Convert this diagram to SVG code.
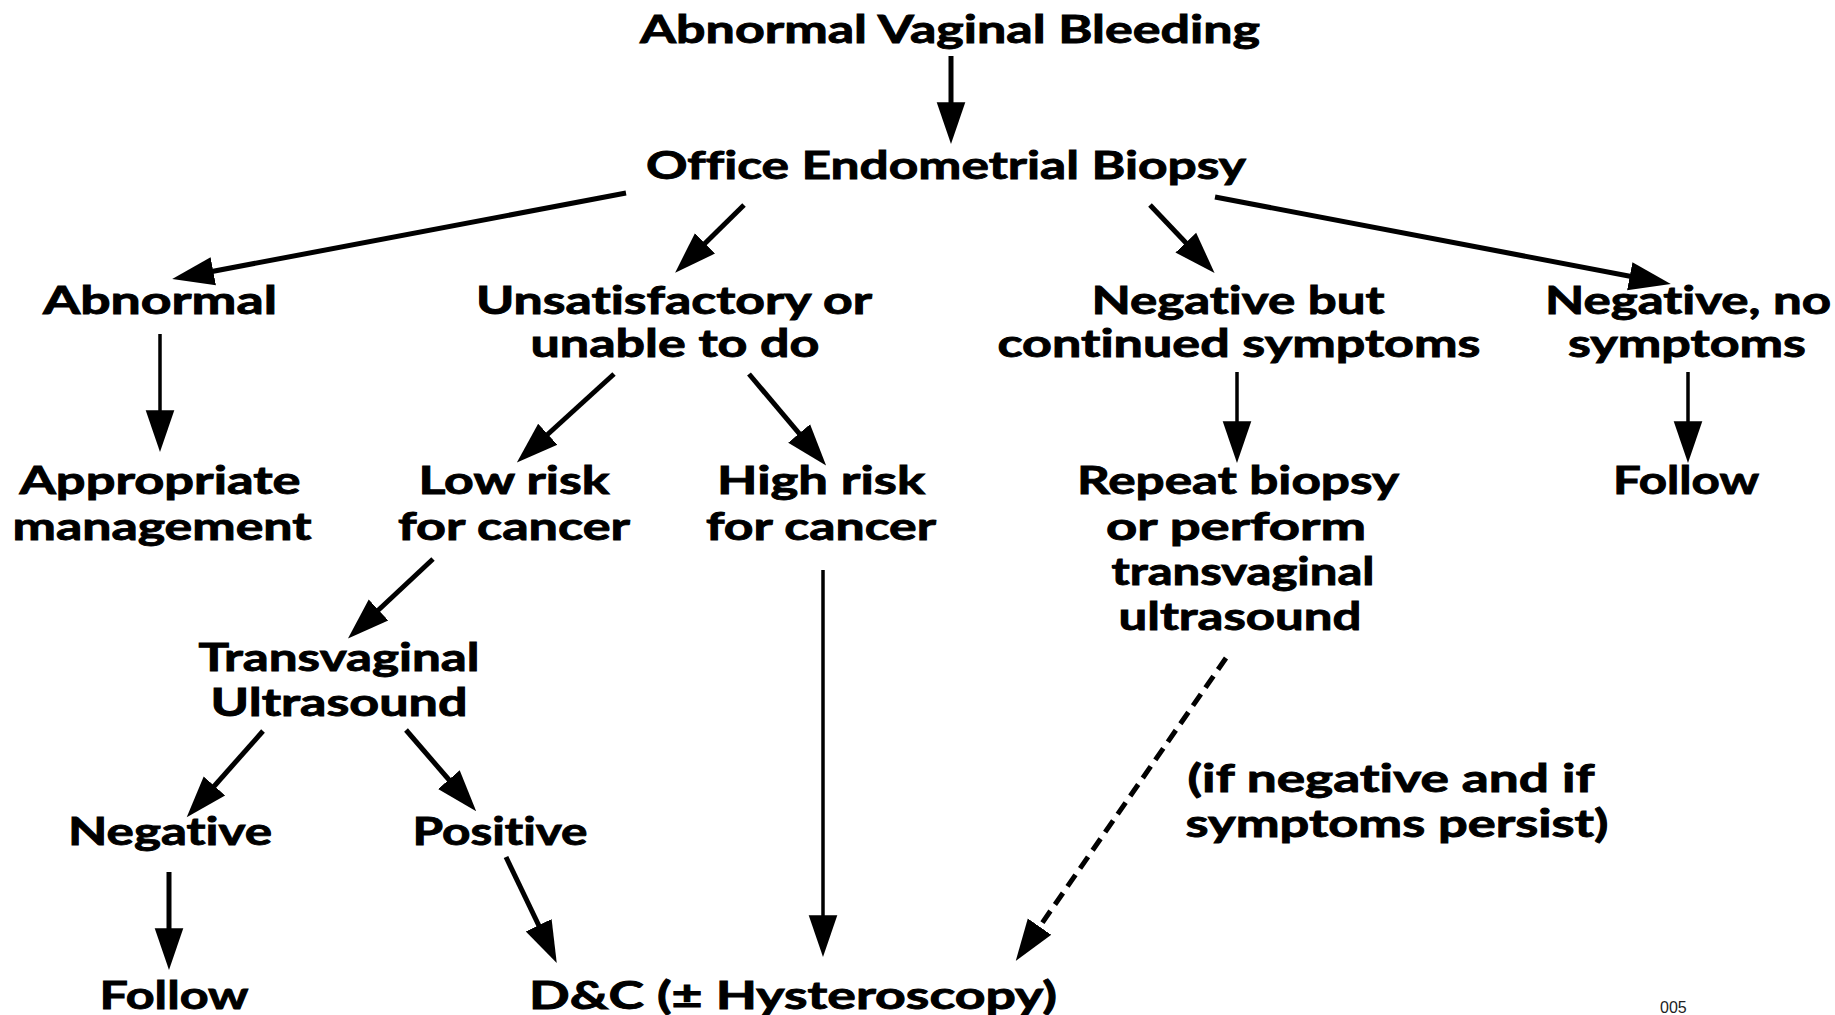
<svg xmlns="http://www.w3.org/2000/svg" width="1835" height="1015" viewBox="0 0 1835 1015">
<style>
  .t { font-family: Lato, "Liberation Sans", sans-serif; font-weight: bold; font-size: 39px; fill: #000; stroke: #000; stroke-width: 0.9; text-anchor: middle; font-variant-ligatures: none; }
  .c { stroke: #000; stroke-width: 5; fill: none; marker-end: url(#ah); }
  .d { stroke-dasharray: 14 8; }
  .thin { stroke-width: 3.5; }
  .pg { font-family: "Liberation Sans", sans-serif; font-size: 16px; fill: #222; }
</style>
<defs>
  <marker id="ah" markerUnits="userSpaceOnUse" markerWidth="44" markerHeight="34" viewBox="0 -15 40 30" refX="28" refY="0" orient="auto">
    <path d="M0,-13 L38,0 L0,13 z" fill="#000"/>
  </marker>
</defs>
<rect width="1835" height="1015" fill="#fff"/>

<g id="connectors">
  <line class="c" x1="951" y1="56" x2="951" y2="133"/>
  <line class="c" x1="626" y1="193" x2="183" y2="277"/>
  <line class="c" x1="744" y1="205" x2="683" y2="265"/>
  <line class="c" x1="1150" y1="205" x2="1207" y2="265"/>
  <line class="c" x1="1215" y1="197" x2="1660" y2="282"/>
  <line class="c thin" x1="160" y1="334" x2="160" y2="441"/>
  <line class="c" x1="614" y1="374" x2="525" y2="455"/>
  <line class="c" x1="749" y1="374" x2="819" y2="457"/>
  <line class="c thin" x1="1237" y1="372" x2="1237" y2="452"/>
  <line class="c thin" x1="1688" y1="372" x2="1688" y2="452"/>
  <line class="c" x1="433" y1="559" x2="356" y2="631"/>
  <line class="c thin" x1="823" y1="570" x2="823" y2="946"/>
  <line class="c d" x1="1226" y1="658" x2="1022" y2="952"/>
  <line class="c" x1="263" y1="731" x2="194" y2="809"/>
  <line class="c" x1="406" y1="730" x2="469" y2="803"/>
  <line class="c" x1="169" y1="872" x2="169" y2="959"/>
  <line class="c" x1="506" y1="857" x2="552" y2="953"/>
</g>

<g id="n-bleeding"><text class="t" x="950" y="43" textLength="620" lengthAdjust="spacingAndGlyphs">Abnormal Vaginal Bleeding</text></g>
<g id="n-biopsy"><text class="t" x="946" y="179" textLength="600" lengthAdjust="spacingAndGlyphs">Office Endometrial Biopsy</text></g>
<g id="n-abnormal"><text class="t" x="160" y="314" textLength="234" lengthAdjust="spacingAndGlyphs">Abnormal</text></g>
<g id="n-unsatisfactory">
  <text class="t" x="674" y="314" textLength="396" lengthAdjust="spacingAndGlyphs">Unsatisfactory or</text>
  <text class="t" x="675" y="357" textLength="289" lengthAdjust="spacingAndGlyphs">unable to do</text>
</g>
<g id="n-negbut">
  <text class="t" x="1238" y="314" textLength="293" lengthAdjust="spacingAndGlyphs">Negative but</text>
  <text class="t" x="1239" y="357" textLength="483" lengthAdjust="spacingAndGlyphs">continued symptoms</text>
</g>
<g id="n-negno">
  <text class="t" x="1688" y="314" textLength="286" lengthAdjust="spacingAndGlyphs">Negative, no</text>
  <text class="t" x="1687" y="357" textLength="238" lengthAdjust="spacingAndGlyphs">symptoms</text>
</g>
<g id="n-appropriate">
  <text class="t" x="160" y="494" textLength="281" lengthAdjust="spacingAndGlyphs">Appropriate</text>
  <text class="t" x="162" y="540" textLength="299" lengthAdjust="spacingAndGlyphs">management</text>
</g>
<g id="n-lowrisk">
  <text class="t" x="514" y="494" textLength="191" lengthAdjust="spacingAndGlyphs">Low risk</text>
  <text class="t" x="514" y="540" textLength="232" lengthAdjust="spacingAndGlyphs">for cancer</text>
</g>
<g id="n-highrisk">
  <text class="t" x="821" y="494" textLength="208" lengthAdjust="spacingAndGlyphs">High risk</text>
  <text class="t" x="821" y="540" textLength="230" lengthAdjust="spacingAndGlyphs">for cancer</text>
</g>
<g id="n-repeat">
  <text class="t" x="1238" y="494" textLength="322" lengthAdjust="spacingAndGlyphs">Repeat biopsy</text>
  <text class="t" x="1236" y="540" textLength="260" lengthAdjust="spacingAndGlyphs">or perform</text>
  <text class="t" x="1243" y="585" textLength="263" lengthAdjust="spacingAndGlyphs">transvaginal</text>
  <text class="t" x="1240" y="630" textLength="243" lengthAdjust="spacingAndGlyphs">ultrasound</text>
</g>
<g id="n-follow-right"><text class="t" x="1686" y="494" textLength="146" lengthAdjust="spacingAndGlyphs">Follow</text></g>
<g id="n-tvus">
  <text class="t" x="339" y="671" textLength="281" lengthAdjust="spacingAndGlyphs">Transvaginal</text>
  <text class="t" x="339" y="716" textLength="257" lengthAdjust="spacingAndGlyphs">Ultrasound</text>
</g>
<g id="n-negative"><text class="t" x="170" y="845" textLength="204" lengthAdjust="spacingAndGlyphs">Negative</text></g>
<g id="n-positive"><text class="t" x="500" y="845" textLength="175" lengthAdjust="spacingAndGlyphs">Positive</text></g>
<g id="n-note">
  <text class="t" x="1391" y="792" textLength="407" lengthAdjust="spacingAndGlyphs">(if negative and if</text>
  <text class="t" x="1397" y="837" textLength="423" lengthAdjust="spacingAndGlyphs">symptoms persist)</text>
</g>
<g id="n-follow-bottom"><text class="t" x="174" y="1009" textLength="149" lengthAdjust="spacingAndGlyphs">Follow</text></g>
<g id="n-dc"><text class="t" x="793" y="1009" textLength="528" lengthAdjust="spacingAndGlyphs">D&amp;C (± Hysteroscopy)</text></g>
<text class="pg" x="1660" y="1013">005</text>
</svg>
